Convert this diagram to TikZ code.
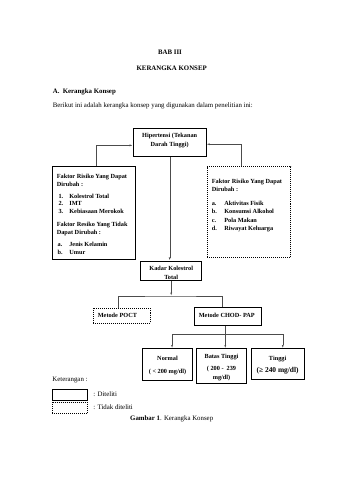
\documentclass[tikz,border=0pt]{standalone}
\usepackage{fontspec}
\setmainfont{Liberation Serif}
\usetikzlibrary{shapes,arrows,positioning,calc,fit}

\tikzset{
  kotak/.style={draw, line width=1pt, inner sep=0pt},
  kotakTitik/.style={kotak, dash pattern=on 1.75pt off 1.75pt},
  garis/.style={draw=black!70, line width=0.5pt},
  panah/.style={garis, -latex, shorten >=1.5pt},
  isi/.style={font=\fontsize{11}{15}\selectfont\bfseries, align=center, inner sep=0pt},
  isiKiri/.style={isi, align=left},
  teks/.style={font=\fontsize{12}{14}\selectfont, inner sep=0pt}
}
\newcommand{\butir}[3]{\hspace*{#1}\makebox[\dimexpr22pt-#1\relax][l]{#2}#3}

\begin{document}
\begin{tikzpicture}[x=1.755pt, y=-1.755pt]
  \useasboundingbox[fill=white] (0,0) rectangle (339,480);

  % Judul
  \node[teks, font=\fontsize{12}{14}\selectfont\bfseries] (bab) at (170,52.7) {BAB III};
  \node[teks, font=\fontsize{12}{14}\selectfont\bfseries] (judul) at (171.7,68.3) {KERANGKA KONSEP};
  \node[teks, font=\fontsize{12}{14}\selectfont\bfseries, anchor=west] (subjudul) at (52.7,92.3) {\makebox[17.6pt][l]{A.}Kerangka Konsep};
  \node[teks, anchor=west] (pengantar) at (52.7,106) {Berikut ini adalah kerangka konsep yang digunakan dalam penelitian ini:};

  % Kotak atas
  \node[kotak, isi, fit={(133.3,128.3) (206,156.7)}] (hip) {Hipertensi (Tekanan\\Darah Tinggi)};

  % Faktor risiko kiri
  \node[kotak, fit={(52.3,166.7) (135,259)}] (kiri) {};
  \node[isiKiri, font=\fontsize{11}{14}\selectfont\bfseries, anchor=north west] (kiriIsi) at (56.7,173.6) {%
    Faktor Risiko Yang Dapat\\
    Dirubah :\\[7pt]
    \butir{3pt}{1.}{Kolestrol Total}\\
    \butir{3pt}{2.}{IMT}\\
    \butir{3pt}{3.}{Kebiasaan Merokok}\\[7.5pt]
    Faktor Resiko Yang Tidak\\
    Dapat Dirubah :\\[7pt]
    \butir{1.5pt}{a.}{Jenis Kelamin}\\
    \butir{1.5pt}{b.}{Umur}};

  % Faktor risiko kanan
  \node[kotakTitik, fit={(207.3,166.7) (290.7,257.7)}] (kanan) {};
  \node[isiKiri, anchor=north west] (kananIsi) at (211.7,178.8) {%
    Faktor Risiko Yang Dapat\\
    Dirubah :\\[8.3pt]
    \butir{0pt}{a.}{Aktivitas Fisik}\\
    \butir{0pt}{b.}{Konsumsi Alkohol}\\
    \butir{0pt}{c.}{Pola Makan}\\
    \butir{0pt}{d.}{Riwayat Keluarga}};

  % Kadar kolesterol
  \node[kotak, fit={(140.7,261) (201.7,280.7)}] (kadar) {};
  \node[isi] (kadarIsi) at ([yshift=-3.5pt]kadar.center) {Kadar Kolestrol\\Total};

  % Metode
  \node[kotakTitik, fit={(93,308) (150,323.3)}] (poct) {};
  \node[isi, anchor=west] (poctIsi) at (97.7,315.3) {Metode POCT};
  \node[kotak, fit={(194,307.3) (261.3,325.7)}] (chod) {};
  \node[isi, anchor=west] (chodIsi) at (198.7,315) {Metode CHOD- PAP};

  % Hasil
  \node[kotak, fit={(142.3,348.7) (192.7,380)}] (normal) {};
  \node[isi] (normalIsi) at ([yshift=-2.5pt]normal.center) {Normal\\[8pt]( < 200 mg/dl)};
  \node[kotak, fit={(196.3,348.7) (246.7,383.3)}] (batas) {};
  \node[isi] (batasIsi) at ([yshift=-2.5pt]batas.center) {Batas Tinggi\\[5.5pt]( 200 -\ \ 239\\mg/dl)};
  \node[kotak, fit={(251,348.7) (304.3,379)}] (tinggi) {};
  \node[isi] (tinggiIsi) at ([yshift=-2.5pt]tinggi.center) {Tinggi\\[7pt]{\fontsize{13}{15}\selectfont(≥ 240 mg/dl)}};

  % Penghubung
  \draw[panah] ([xshift=5pt]kiri.north) |- ([yshift=-5pt]hip.west);
  \draw[panah] ([xshift=-14.6pt]kanan.north) |- ([yshift=-3pt]hip.east);
  \draw[panah] (hip.south) -- (hip.south |- kadar.north);

  \coordinate (cabangA) at (170.7,296);
  \draw[panah] (kadar.south) -- (kadar.south |- cabangA);
  \draw[garis] ([xshift=-6.7pt]poct.north) |- (cabangA) -| ([xshift=-9.9pt]chod.north);

  \coordinate (cabangB) at (225.3,334.3);
  \draw[garis] (chod.south -| cabangB) -- (cabangB);
  \draw[panah] (cabangB) -| ([xshift=8pt]normal.north);
  \draw[panah] (cabangB) -- (cabangB |- batas.north);
  \draw[panah] (cabangB) -| ([xshift=9pt]tinggi.north);

  % Keterangan
  \node[teks, anchor=west] (ket) at (52.3,380) {Keterangan :};
  \node[kotak, fit={(52.3,389.3) (87.7,400.3)}] (ketA) {};
  \node[kotakTitik, fit={(52.3,402.3) (87.7,413.3)}] (ketB) {};
  \node[teks, anchor=west] (ketAIsi) at (93.3,394.3) {: Diteliti};
  \node[teks, anchor=west] (ketBIsi) at (93.3,407.3) {: Tidak diteliti};

  \node[teks] (gambar) at (171.7,419.3) {\textbf{Gambar 1}. Kerangka Konsep};
\end{tikzpicture}
\end{document}
